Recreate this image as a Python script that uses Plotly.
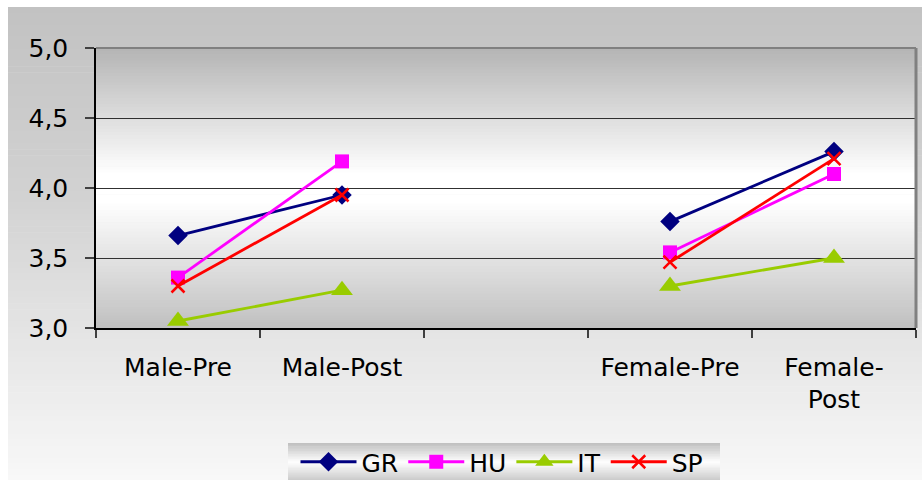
import plotly.graph_objects as go
import numpy as np

categories = ["Male-Pre", "Male-Post", " ", "Female-Pre", "Female-<br>Post"]
series_names = ["GR", "HU", "IT", "SP"]
gr_values = [3.66, 3.95, None, 3.76, 4.26]
hu_values = [3.36, 4.19, None, 3.54, 4.10]
it_values = [3.05, 3.27, None, 3.30, 3.50]
sp_values = [3.30, 3.95, None, 3.47, 4.21]
y_tick_values = [3.0, 3.5, 4.0, 4.5, 5.0]

W, H = 922, 480
ML, MR, MT, MB = 96, 6, 48, 152
PW, PH = W - ML - MR, H - MT - MB


def px_x(p):
    return (p - ML) / PW


def px_y(p):
    return (H - MB - p) / PH


def interp_gray(stops, f):
    fs = [s[0] for s in stops]
    gs = [s[1] for s in stops]
    g = int(round(np.interp(f, fs, gs)))
    return f"rgb({g},{g},{g})"


def gradient_bands(x0, x1, y0, y1, stops, n):
    shapes = []
    for i in range(n):
        a = y0 + (y1 - y0) * i / n
        b = y0 + (y1 - y0) * (i + 1) / n
        f = (i + 0.5) / n
        shapes.append(dict(type="rect", xref="paper", yref="paper",
                           x0=px_x(x0), x1=px_x(x1), y0=px_y(a), y1=px_y(b + 0.6),
                           fillcolor=interp_gray(stops, f), line=dict(width=0),
                           layer="below"))
    return shapes


shapes = []
# outer chart area gradient
shapes += gradient_bands(8, 923, 7, 481, [(0, 194), (0.4, 210), (0.65, 226), (1, 248)], 80)
# plot area gradient
shapes += gradient_bands(96, 916, 48, 328, [(0, 180), (0.45, 255), (0.55, 255), (1, 192)], 90)
# legend box gradient
shapes += gradient_bands(288, 720, 443, 481, [(0, 190), (0.5, 255), (1, 200)], 24)
# plot border (top & right)
shapes.append(dict(type="line", xref="paper", yref="paper", x0=0, x1=1, y0=1, y1=1,
                   line=dict(color="#808080", width=2), layer="above"))
shapes.append(dict(type="line", xref="paper", yref="paper", x0=1, x1=1, y0=0, y1=1,
                   line=dict(color="#808080", width=3), layer="above"))

fig = go.Figure()
styles = [
    ("GR", gr_values, "#000080", "diamond", 15),
    ("HU", hu_values, "#ff00ff", "square", 14),
    ("IT", it_values, "#99cc00", "triangle-up", 19),
    ("SP", sp_values, "#ff0000", "x-thin", 13),
]
for name, vals, color, sym, size in styles:
    marker = dict(symbol=sym, size=size, color=color)
    if sym == "x-thin":
        marker["line"] = dict(color=color, width=2.5)
    else:
        marker["line"] = dict(width=0)
    fig.add_trace(go.Scatter(x=categories, y=vals, name=name, mode="lines+markers",
                             line=dict(color=color, width=2.8), marker=marker,
                             connectgaps=False))

fig.update_layout(
    width=W, height=H,
    margin=dict(l=ML, r=MR, t=MT, b=MB, autoexpand=False),
    paper_bgcolor="white",
    plot_bgcolor="rgba(0,0,0,0)",
    separators=",.",
    font=dict(family="DejaVu Sans", size=25, color="black"),
    shapes=shapes,
    showlegend=True,
    legend=dict(orientation="h", x=px_x(502), xanchor="center", y=px_y(462), yanchor="middle",
                bgcolor="rgba(0,0,0,0)", borderwidth=0, font=dict(size=25),
                itemwidth=56, tracegroupgap=0),
    xaxis=dict(type="category", categoryorder="array", categoryarray=categories,
               showline=True, linecolor="black", linewidth=1.5,
               ticks="outside", ticklen=8, tickcolor="#404040", tickwidth=1.5,
               tickson="boundaries", showgrid=False, ticklabelstandoff=16,
               range=[-0.5, 4.5]),
    yaxis=dict(range=[3, 5], tickvals=y_tick_values, tickformat=".1f",
               showline=True, linecolor="black", linewidth=1.5,
               ticks="outside", ticklen=9, tickcolor="#404040", tickwidth=1.5,
               showgrid=True, gridcolor="#303030", gridwidth=1,
               zeroline=False, ticklabelstandoff=12),
)

fig.write_html("out.html")
